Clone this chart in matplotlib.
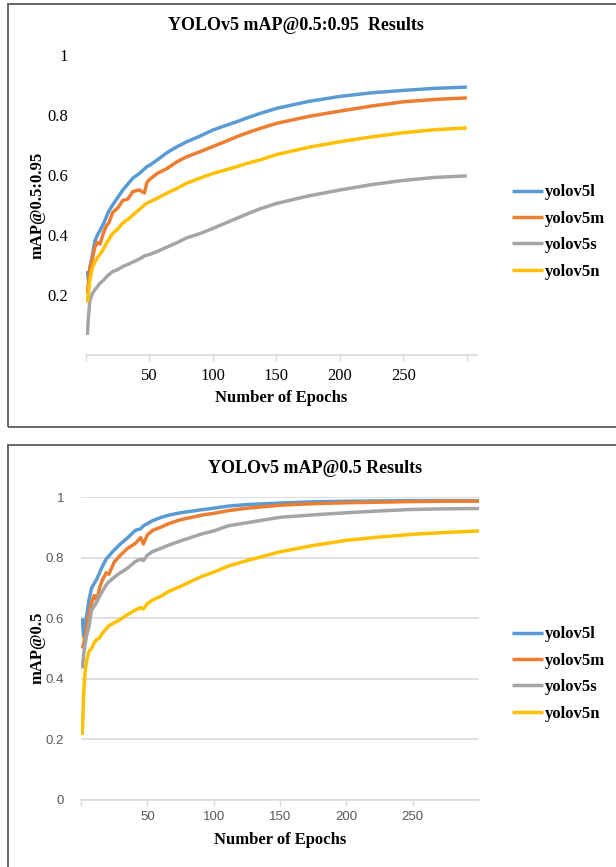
import matplotlib
matplotlib.use('Agg')
import matplotlib.pyplot as plt
from matplotlib.patches import Rectangle

# ---- data ----
models = ['yolov5l', 'yolov5m', 'yolov5s', 'yolov5n']
colors = ['#5B9BD5', '#ED7D31', '#A5A5A5', '#FFC000']

# mAP@0.5:0.95 (top chart)
epochs_a = [1, 2, 3, 5, 7, 9, 11, 14, 16, 18, 21, 25, 29, 33, 37, 42, 46, 48, 50,
            56, 64, 72, 79, 90, 100, 110, 119, 128, 137, 150, 175, 200, 225, 250, 275, 300]
map95_l = [0.28, 0.25, 0.29, 0.33, 0.38, 0.40, 0.415, 0.44, 0.46, 0.48, 0.50, 0.525, 0.55,
           0.57, 0.59, 0.605, 0.62, 0.628, 0.632, 0.65, 0.675, 0.695, 0.71, 0.73, 0.75,
           0.765, 0.778, 0.792, 0.805, 0.822, 0.845, 0.862, 0.874, 0.882, 0.889, 0.893]
map95_m = [0.205, 0.24, 0.29, 0.32, 0.36, 0.375, 0.37, 0.41, 0.43, 0.44, 0.475, 0.49, 0.515,
           0.52, 0.545, 0.55, 0.54, 0.575, 0.585, 0.605, 0.622, 0.645, 0.66, 0.678, 0.695,
           0.712, 0.728, 0.742, 0.755, 0.772, 0.795, 0.813, 0.83, 0.844, 0.852, 0.857]
map95_s = [0.067, 0.13, 0.18, 0.205, 0.217, 0.228, 0.239, 0.25, 0.26, 0.268, 0.278, 0.285,
           0.295, 0.302, 0.31, 0.32, 0.33, 0.333, 0.335, 0.345, 0.36, 0.375, 0.39, 0.405,
           0.422, 0.44, 0.456, 0.472, 0.487, 0.505, 0.53, 0.55, 0.568, 0.582, 0.592, 0.597]
map95_n = [0.175, 0.21, 0.25, 0.29, 0.31, 0.325, 0.335, 0.355, 0.372, 0.385, 0.405, 0.42,
           0.44, 0.452, 0.467, 0.485, 0.5, 0.506, 0.51, 0.522, 0.54, 0.556, 0.572, 0.59,
           0.605, 0.617, 0.628, 0.64, 0.65, 0.668, 0.692, 0.711, 0.727, 0.741, 0.751, 0.757]

# mAP@0.5 (bottom chart)
epochs_b = [1, 2, 3, 4, 6, 8, 10, 12, 14, 16, 19, 21, 25, 29, 35, 41, 45, 47, 50, 54,
            60, 66, 75, 91, 100, 111, 125, 150, 175, 200, 225, 250, 275, 300]
map50_l = [0.60, 0.54, 0.57, 0.60, 0.66, 0.70, 0.715, 0.73, 0.75, 0.77, 0.795, 0.805, 0.825,
           0.842, 0.865, 0.89, 0.895, 0.905, 0.912, 0.922, 0.932, 0.94, 0.948, 0.958,
           0.963, 0.97, 0.975, 0.98, 0.984, 0.986, 0.987, 0.988, 0.988, 0.988]
map50_m = [0.50, 0.515, 0.54, 0.56, 0.615, 0.65, 0.675, 0.66, 0.70, 0.725, 0.75, 0.745, 0.785,
           0.805, 0.83, 0.847, 0.866, 0.845, 0.875, 0.89, 0.90, 0.912, 0.925, 0.94,
           0.946, 0.955, 0.963, 0.973, 0.978, 0.981, 0.983, 0.985, 0.986, 0.986]
map50_s = [0.434, 0.48, 0.51, 0.539, 0.572, 0.627, 0.64, 0.655, 0.672, 0.688, 0.71, 0.72,
           0.735, 0.748, 0.765, 0.787, 0.795, 0.79, 0.808, 0.82, 0.83, 0.841, 0.855, 0.878,
           0.888, 0.905, 0.915, 0.933, 0.941, 0.948, 0.954, 0.959, 0.961, 0.962]
map50_n = [0.215, 0.35, 0.418, 0.455, 0.49, 0.50, 0.52, 0.53, 0.535, 0.55, 0.565, 0.575,
           0.585, 0.594, 0.612, 0.627, 0.635, 0.63, 0.648, 0.66, 0.672, 0.688, 0.705, 0.738,
           0.752, 0.772, 0.79, 0.819, 0.84, 0.857, 0.868, 0.877, 0.883, 0.888]

W, H = 616, 867
fig = plt.figure(figsize=(W / 100, H / 100), dpi=100)
fig.patch.set_facecolor('white')

def fx(px):
    return px / W

def fy(py):
    return 1 - py / H

serif = 'Liberation Serif'
sans = 'Liberation Sans'
grid_c = '#D9D9D9'
lw = 2.5

# boxes around each chart
for top, bot in [(4, 427), (445, 880)]:
    fig.add_artist(Rectangle((fx(8), fy(bot)), fx(640), (bot - top) / H,
                             transform=fig.transFigure, fill=False,
                             ec='#595959', lw=1.3))

# ---------- top chart ----------
ax1 = fig.add_axes([fx(86), fy(355), fx(477 - 86), 300 / H])
for vals, c, m in zip([map95_l, map95_m, map95_s, map95_n], colors, models):
    ax1.plot(epochs_a, vals, color=c, lw=lw, label=m, solid_capstyle='butt')
ax1.set_xlim(0, 308)
ax1.set_ylim(0, 1)
for s in ['top', 'right', 'left']:
    ax1.spines[s].set_visible(False)
ax1.spines['bottom'].set_color(grid_c)
ax1.spines['bottom'].set_linewidth(1.2)
ax1.set_xticks([0, 50, 100, 150, 200, 250, 300])
ax1.set_xticklabels(['', '50', '100', '150', '200', '250', ''])
ax1.set_yticks([0.2, 0.4, 0.6, 0.8, 1])
ax1.set_yticklabels(['0.2', '0.4', '0.6', '0.8', '1'])
ax1.tick_params(axis='x', length=4, color=grid_c, width=1, pad=5,
                labelsize=12, labelcolor='black')
ax1.tick_params(axis='y', length=0, pad=13, labelsize=12, labelcolor='black')
for lab in ax1.get_xticklabels() + ax1.get_yticklabels():
    lab.set_fontfamily(serif)

fig.text(fx(296), fy(26), 'YOLOv5 mAP@0.5:0.95  Results', ha='center', va='center',
         fontsize=13, fontweight='bold', family=serif)
fig.text(fx(38), fy(205), 'mAP@0.5:0.95', ha='center', va='center', rotation=90,
         fontsize=12, fontweight='bold', family=serif)
fig.text(fx(281), fy(398), 'Number of Epochs', ha='center', va='center',
         fontsize=12, fontweight='bold', family=serif)
fig.legend(*ax1.get_legend_handles_labels(), loc='center left',
           bbox_to_anchor=(fx(512), fy(232)), frameon=False, borderpad=0,
           borderaxespad=0, handlelength=1.85, handletextpad=0.15,
           labelspacing=0.62, prop={'family': serif, 'weight': 'bold', 'size': 12})

# ---------- bottom chart ----------
ax2 = fig.add_axes([fx(81), fy(800), fx(479 - 81), 303 / H])
for vals, c, m in zip([map50_l, map50_m, map50_s, map50_n], colors, models):
    ax2.plot(epochs_b, vals, color=c, lw=lw, label=m, solid_capstyle='butt', zorder=3)
ax2.set_xlim(0, 300)
ax2.set_ylim(0, 1)
for s in ['top', 'right', 'left']:
    ax2.spines[s].set_visible(False)
ax2.spines['bottom'].set_color(grid_c)
ax2.spines['bottom'].set_linewidth(1.2)
ax2.set_xticks([0, 50, 100, 150, 200, 250])
ax2.set_xticklabels(['', '50', '100', '150', '200', '250'])
ax2.set_yticks([0, 0.2, 0.4, 0.6, 0.8, 1])
ax2.set_yticklabels(['0', '0.2', '0.4', '0.6', '0.8', '1'])
ax2.grid(axis='y', color=grid_c, lw=1.2)
ax2.set_axisbelow(True)
ax2.tick_params(axis='x', length=4, color=grid_c, width=1, pad=4,
                labelsize=9.5, labelcolor='#595959')
ax2.tick_params(axis='y', length=0, pad=12, labelsize=9.5, labelcolor='#595959')
for lab in ax2.get_xticklabels() + ax2.get_yticklabels():
    lab.set_fontfamily(sans)

fig.text(fx(315), fy(468), 'YOLOv5 mAP@0.5 Results', ha='center', va='center',
         fontsize=13, fontweight='bold', family=serif)
fig.text(fx(38), fy(648), 'mAP@0.5', ha='center', va='center', rotation=90,
         fontsize=12, fontweight='bold', family=serif)
fig.text(fx(280), fy(840), 'Number of Epochs', ha='center', va='center',
         fontsize=12, fontweight='bold', family=serif)
fig.legend(*ax2.get_legend_handles_labels(), loc='center left',
           bbox_to_anchor=(fx(512), fy(674)), frameon=False, borderpad=0,
           borderaxespad=0, handlelength=1.85, handletextpad=0.15,
           labelspacing=0.62, prop={'family': serif, 'weight': 'bold', 'size': 12})

fig.savefig('out.png', dpi=100, facecolor='white')
